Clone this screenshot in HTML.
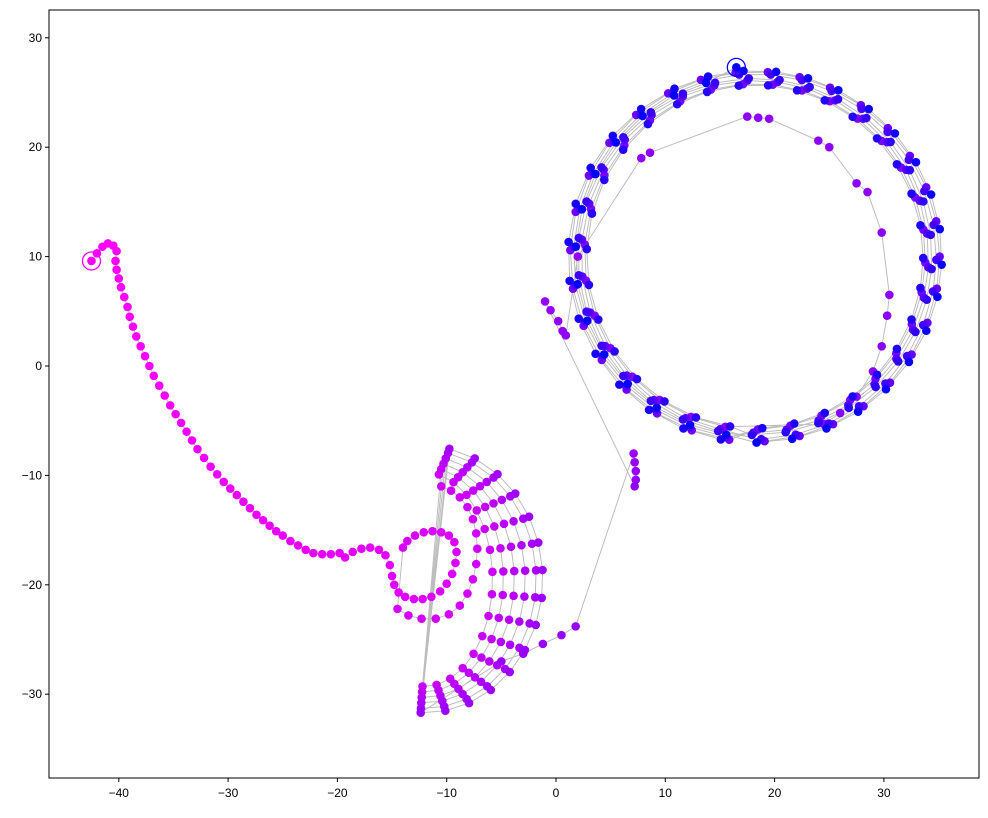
<!DOCTYPE html>
<html><head><meta charset="utf-8"><style>
html,body{margin:0;padding:0;background:#fff;}
svg text{font-family:"Liberation Sans",sans-serif;font-size:12px;fill:#000;}
</style></head><body>
<svg id="chart" width="988" height="813" xmlns="http://www.w3.org/2000/svg">
<rect x="49" y="10" width="930" height="768" fill="#fff" stroke="#000" stroke-width="1"/>
<g id="lines"></g>
<g id="pts"></g>
<g id="axes"></g>
</svg>
<script>
// x-axis ticks / y-axis ticks
const xTicks=[-40,-30,-20,-10,0,10,20,30];
const yTicks=[30,20,10,0,-10,-20,-30];
// initial tail (magenta) trajectory
const tailX=[-42.5,-42,-41.5,-41,-40.5,-40.2,-40.3,-40.2,-40,-39.8,-39.5,-39.2,-39,-38.7,-38.4,-38,-37.6,-37.2,-36.8,-36.3,-35.8,-35.3,-34.8,-34.3,-33.8,-33.3,-32.8,-32.2,-31.6,-31,-30.4,-29.8,-29.2,-28.6,-28,-27.4,-26.8,-26.2,-25.6,-25,-24.3,-23.6,-22.9,-22.2,-21.4,-20.6,-19.8,-19.3,-18.6,-17.8,-17,-16.2,-15.6,-15.2,-15,-14.8,-14.4,-13.8,-13,-12.2,-11.4,-10.6,-10,-9.5,-9.2,-9.1,-9.3,-9.8,-10.5,-11.3,-12.1,-12.9,-13.6,-14,-14.5,-13.5,-12.3,-11,-9.8,-8.8,-8.1,-7.6,-7.3,-7.2,-7.3,-7.6,-8.1,-8.8,-9.6,-10.5];
const tailY=[9.6,10.3,10.9,11.2,11,10.5,9.6,8.8,8,7.2,6.3,5.4,4.5,3.6,2.7,1.8,0.9,0,-0.9,-1.8,-2.7,-3.6,-4.4,-5.2,-6,-6.8,-7.6,-8.4,-9.2,-9.9,-10.6,-11.2,-11.8,-12.4,-13,-13.6,-14.1,-14.6,-15.1,-15.5,-16,-16.4,-16.8,-17.1,-17.2,-17.2,-17.1,-17.5,-17,-16.7,-16.6,-16.8,-17.3,-18.2,-19.2,-20,-20.7,-21.1,-21.3,-21.3,-21.1,-20.6,-19.9,-19,-18,-17,-16.1,-15.5,-15.2,-15.1,-15.2,-15.5,-16,-16.6,-22.2,-22.8,-23.1,-23.1,-22.7,-21.9,-20.8,-19.5,-18.1,-16.7,-15.3,-14,-12.9,-12,-11.4,-11];
// purple concentric arcs (centre -12,-19.5)
const arcRx=[6.2,7.2,8.2,9.2,10.2,10.8];
const arcRy=[9.8,10.3,10.8,11.3,11.8,12.2];
const arcAngles=[78,65,52,40,28,16,4,-8,-20,-32,-44,-56,-68,-80,-92];
// transfer path to the ring
const midX=[-5,-3,-1.2,0.5,1.8,7.1,7.2,7.3,7.3,7.2,-1,-0.5,0.2,0.6,0.9,2,7.8,8.6,17.5,18.5,19.5,24,25,27.5,28.5,29.8,30.5,30.3,29.8,29,27.5,26,24.5];
const midY=[-27,-26.3,-25.4,-24.6,-23.8,-8,-8.8,-9.6,-10.4,-11,5.9,5.1,4.1,3.2,2.8,10,19,19.5,22.8,22.7,22.6,20.6,20,16.7,15.9,12.2,6.5,4.6,1.8,-0.5,-2.8,-4.3,-5.3];
// ring clusters (centre 18.2,10)
const ringAngles=[-100,-112,-124,-136,-148,-160,-172,176,164,152,140,128,116,105,94,84,74,64,53,42,31,20,9,-2,-12,-23,-34,-45,-56,-67,-78,-89];
const loopRx=[15.6,16.9,15.9,16.6,16.2,15.4,17.1,16.4];
const loopRy=[15.8,16.9,16.1,16.7,16.3,15.7,17.0,16.5];
const loopShift=[0,2,-1.5,1,-2,1.5,-0.5,0.8];
const endPt=[16.5,27.3];

const X=v=>556+v*10.93, Y=v=>366-v*10.94;
const P=[];
for(let i=0;i<tailX.length;i++)P.push([tailX[i],tailY[i]]);
for(let a=0;a<arcRx.length;a++)for(const ang of arcAngles){const r=ang*Math.PI/180;P.push([-12+arcRx[a]*Math.cos(r),-19.5+arcRy[a]*Math.sin(r)]);}
for(let i=0;i<midX.length;i++)P.push([midX[i],midY[i]]);
const nL=loopRx.length;
for(let l=0;l<nL;l++){for(const ang of ringAngles){
  if(l===nL-1&&ang===94)break;
  const r=(ang+loopShift[l])*Math.PI/180;P.push([18.2+loopRx[l]*Math.cos(r),10+loopRy[l]*Math.sin(r)]);}}
P.push(endPt);
const NS='http://www.w3.org/2000/svg';
const lg=document.getElementById('lines'),pg=document.getElementById('pts'),ag=document.getElementById('axes');
const pl=document.createElementNS(NS,'polyline');
pl.setAttribute('points',P.map(p=>X(p[0])+','+Y(p[1])).join(' '));
pl.setAttribute('fill','none');pl.setAttribute('stroke','#bdbdbd');pl.setAttribute('stroke-width','1');


lg.appendChild(pl);
const col=i=>{const t=i/(P.length-1);return 'rgb('+Math.round(255*(1-t))+',0,255)';};
P.forEach((p,i)=>{const c=document.createElementNS(NS,'circle');c.setAttribute('cx',X(p[0]));c.setAttribute('cy',Y(p[1]));c.setAttribute('r',4.3);c.setAttribute('fill',col(i));


pg.appendChild(c);});
[[0,'start-marker'],[P.length-1,'end-marker']].forEach(([i,n])=>{const c=document.createElementNS(NS,'circle');c.setAttribute('cx',X(P[i][0]));c.setAttribute('cy',Y(P[i][1]));c.setAttribute('r',9);c.setAttribute('fill','none');c.setAttribute('stroke',col(i));c.setAttribute('stroke-width','1.3');


pg.appendChild(c);});
xTicks.forEach(v=>{const l=document.createElementNS(NS,'line');l.setAttribute('x1',X(v));l.setAttribute('x2',X(v));l.setAttribute('y1',778);l.setAttribute('y2',782);l.setAttribute('stroke','#000');


ag.appendChild(l);
const t=document.createElementNS(NS,'text');t.setAttribute('x',X(v));t.setAttribute('y',797);t.setAttribute('text-anchor','middle');t.textContent=v<0?'\u2212'+(-v):v;


ag.appendChild(t);});
yTicks.forEach(v=>{const l=document.createElementNS(NS,'line');l.setAttribute('x1',45);l.setAttribute('x2',49);l.setAttribute('y1',Y(v));l.setAttribute('y2',Y(v));l.setAttribute('stroke','#000');


ag.appendChild(l);
const t=document.createElementNS(NS,'text');t.setAttribute('x',42);t.setAttribute('y',Y(v)+4);t.setAttribute('text-anchor','end');t.textContent=v<0?'\u2212'+(-v):v;


ag.appendChild(t);});
</script>
</body></html>
